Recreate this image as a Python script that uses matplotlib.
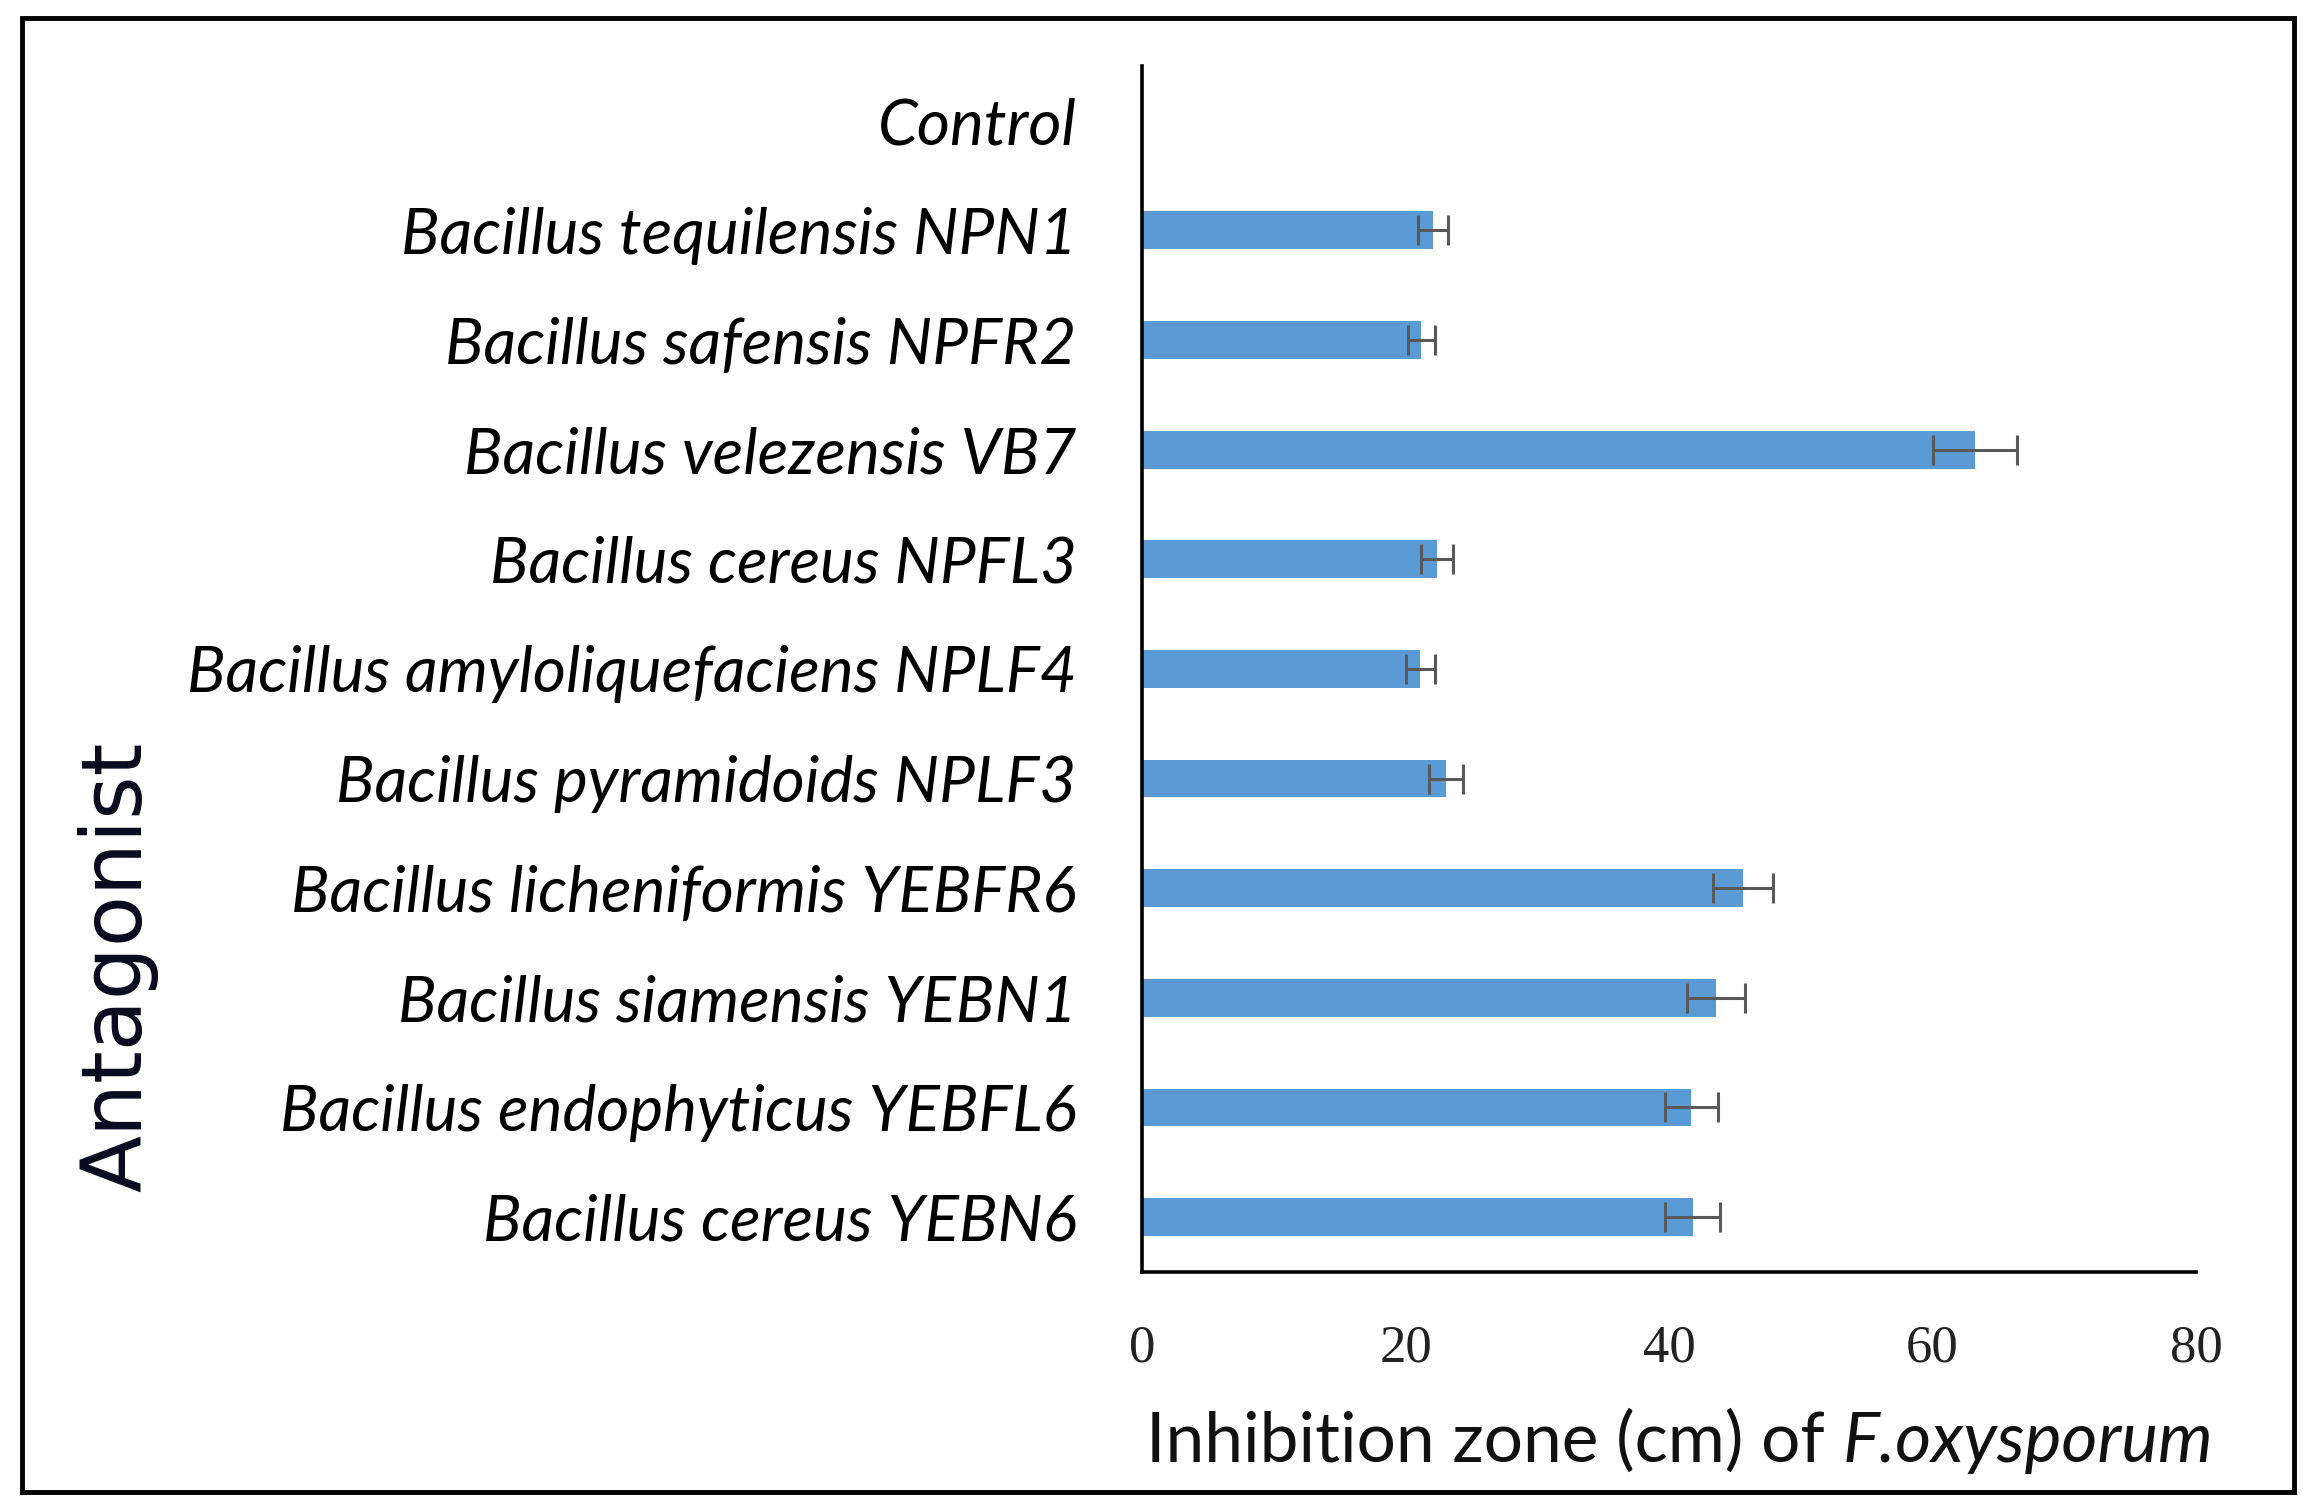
import matplotlib.pyplot as plt
import numpy as np
from matplotlib.patches import Rectangle

# Data (top to bottom)
antagonists = ['Control', 'Bacillus tequilensis NPN1', 'Bacillus safensis NPFR2',
               'Bacillus velezensis VB7', 'Bacillus cereus NPFL3',
               'Bacillus amyloliquefaciens NPLF4', 'Bacillus pyramidoids NPLF3',
               'Bacillus licheniformis YEBFR6', 'Bacillus siamensis YEBN1',
               'Bacillus endophyticus YEBFL6', 'Bacillus cereus YEBN6']
inhibition = [0, 22.1, 21.2, 63.2, 22.4, 21.1, 23.1, 45.6, 43.6, 41.7, 41.8]
errors = [0, 1.15, 1.0, 3.2, 1.2, 1.1, 1.3, 2.3, 2.2, 2.0, 2.1]
xticks = [0, 20, 40, 60, 80]

fig = plt.figure(figsize=(23.16, 15.09), dpi=100)
ax = fig.add_axes([0.4931, 0.1571, 0.4551, 0.7992])

y = np.arange(len(antagonists))
ax.barh(y, inhibition, height=0.345, color='#5B9BD5', zorder=2)
ax.errorbar(inhibition[1:], y[1:], xerr=errors[1:], fmt='none', ecolor='#595959',
            elinewidth=2.2, capsize=10.5, capthick=2.2, zorder=3)

ax.set_ylim(len(antagonists) - 0.5, -0.5)
ax.set_xlim(0, 80)
ax.set_xticks(xticks)
ax.set_xticklabels([str(t) for t in xticks], fontfamily='Liberation Serif', fontsize=38,
                   color='#222222')
ax.set_yticks(y)
ax.set_yticklabels(antagonists, fontfamily='Lato', fontstyle='italic', fontsize=46)
ax.tick_params(axis='x', length=0, pad=38)
ax.tick_params(axis='y', length=0, pad=47)

for side in ['top', 'right']:
    ax.spines[side].set_visible(False)
for side in ['left', 'bottom']:
    ax.spines[side].set_linewidth(2.6)
    ax.spines[side].set_color('black')

# x label: plain part + italic species name, centred under the axes
r = fig.canvas.get_renderer()
part1 = 'Inhibition zone (cm) of '
part2 = 'F.oxysporum'
t1 = fig.text(0, 0.031, part1, fontfamily='Lato', fontsize=50, color='#111111',
              va='baseline', ha='left')
t2 = fig.text(0, 0.031, part2, fontfamily='Lato', fontstyle='italic', fontsize=50,
              color='#111111', va='baseline', ha='left')
w1 = t1.get_window_extent(r).width / fig.bbox.width
w2 = t2.get_window_extent(r).width / fig.bbox.width
x0 = 0.7254 - (w1 + w2) / 2
t1.set_x(x0)
t2.set_x(x0 + w1)

fig.text(0.051, 0.359, 'Antagonist', rotation=90, fontfamily='DejaVu Sans',
         fontsize=60, color='#0a0a1e', ha='center', va='center')

# outer frame around the figure
fig.patches.append(Rectangle((0.0095, 0.011), 0.981, 0.977, transform=fig.transFigure,
                             fill=False, edgecolor='black', linewidth=3.5))

fig.savefig('out.png', dpi=100)
